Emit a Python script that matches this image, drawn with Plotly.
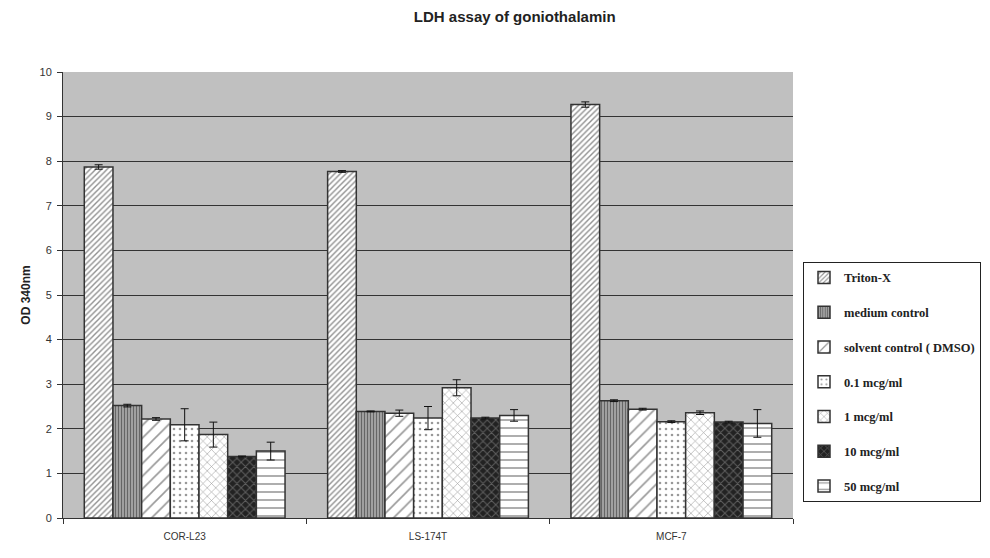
import plotly.graph_objects as go

cell_lines = ["COR-L23", "LS-174T", "MCF-7"]
series_names = ["Triton-X", "medium control", "solvent control ( DMSO)",
                "0.1 mcg/ml", "1 mcg/ml", "10 mcg/ml", "50 mcg/ml"]

triton_x = [7.87, 7.77, 9.27]
medium_control = [2.52, 2.39, 2.63]
solvent_dmso = [2.22, 2.35, 2.44]
mcg_0_1 = [2.09, 2.24, 2.16]
mcg_1 = [1.87, 2.92, 2.36]
mcg_10 = [1.38, 2.24, 2.15]
mcg_50 = [1.50, 2.30, 2.12]

err_triton_x = [0.05, 0.02, 0.06]
err_medium_control = [0.03, 0.01, 0.02]
err_solvent_dmso = [0.03, 0.07, 0.02]
err_mcg_0_1 = [0.36, 0.26, 0.02]
err_mcg_1 = [0.28, 0.18, 0.04]
err_mcg_10 = [0.01, 0.02, 0.02]
err_mcg_50 = [0.20, 0.13, 0.31]

values = [triton_x, medium_control, solvent_dmso, mcg_0_1, mcg_1, mcg_10, mcg_50]
errors = [err_triton_x, err_medium_control, err_solvent_dmso, err_mcg_0_1,
          err_mcg_1, err_mcg_10, err_mcg_50]

patterns = [
    dict(shape="/", size=4, solidity=0.35, fgcolor="#222", bgcolor="white"),
    dict(shape="|", size=3, solidity=0.55, fgcolor="#111", bgcolor="#bbb"),
    dict(shape="/", size=9, solidity=0.18, fgcolor="#333", bgcolor="white"),
    dict(shape=".", size=6, solidity=0.15, fgcolor="#333", bgcolor="white"),
    dict(shape="x", size=6, solidity=0.2, fgcolor="#444", bgcolor="white"),
    dict(shape="x", size=6, solidity=0.3, fgcolor="#999", bgcolor="#222"),
    dict(shape="-", size=8, solidity=0.2, fgcolor="#333", bgcolor="white"),
]

fig = go.Figure()
for i, name in enumerate(series_names):
    fig.add_trace(go.Bar(
        x=cell_lines, y=values[i], name=name, legendgroup=name,
        marker=dict(color="white", pattern=patterns[i],
                    line=dict(color="#333", width=1.5)),
        error_y=dict(type="data", array=errors[i], color="#111",
                     thickness=1, width=4),
    ))

fig.update_layout(
    width=982, height=550,
    margin=dict(l=55, r=197, t=64, b=40, autoexpand=False),
    paper_bgcolor="white", plot_bgcolor="#c0c0c0",
    barmode="group", bargap=0.175, bargroupgap=0,
    title=dict(text="<b>LDH assay of goniothalamin</b>", x=0.516, xanchor="center",
               y=0.984, yanchor="middle",
               font=dict(family="Liberation Sans, Arial", size=15, color="#222")),
    showlegend=True,
    legend=dict(x=1.0137, xanchor="left", y=0.574, yanchor="top",
                bgcolor="white", bordercolor="#222", borderwidth=1,
                traceorder="grouped", tracegroupgap=15.5, itemwidth=30,
                font=dict(family="Liberation Serif, Times New Roman", size=12.5,
                          color="#222", weight="bold")),
    font=dict(family="Liberation Sans, Arial", size=10, color="#333"),
)
fig.update_yaxes(range=[0, 10], dtick=1, showgrid=True, gridcolor="#333", gridwidth=1,
                 showline=True, linecolor="#333", linewidth=1,
                 ticks="outside", ticklen=5, tickcolor="#333",
                 ticklabelstandoff=3, zeroline=False,
                 tickfont=dict(size=11),
                 title=dict(text="<b>OD 340nm</b>", standoff=6,
                            font=dict(family="Liberation Sans, Arial", size=12, color="#222")))
fig.update_xaxes(showline=True, linecolor="#333", linewidth=1,
                 ticks="outside", ticklen=5, tickcolor="#333", tickson="boundaries",
                 ticklabelstandoff=9, showgrid=False)

fig.write_html("out.html")
